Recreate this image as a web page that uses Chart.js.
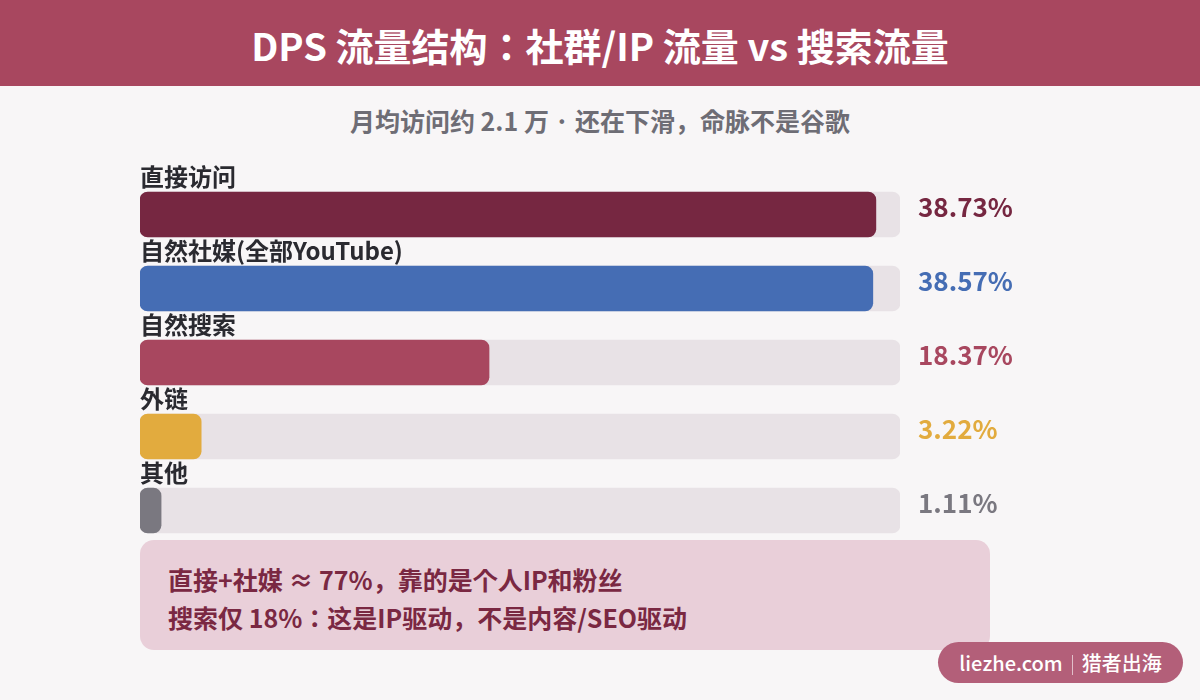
<!DOCTYPE html>
<html>
<head>
<meta charset="utf-8">
<script src="https://cdn.jsdelivr.net/npm/chart.js@4.4.1/dist/chart.umd.min.js"></script>
<style>
  html, body { margin: 0; padding: 0; }
  body { width: 1200px; height: 700px; background: #f8f6f7; position: relative; overflow: hidden;
         font-family: "Noto Sans CJK JP", "Noto Sans", sans-serif; font-weight: 700; }
  #head { position: absolute; left: 0; top: 0; width: 1200px; height: 86px; background: #a8475f;
          color: #fff; font-size: 38px; text-align: center; line-height: 90px; }
  #sub { position: absolute; left: 0; top: 102px; width: 1200px; text-align: center;
         color: #6e6d75; font-size: 25px; line-height: 36px; }
  #wrap { position: absolute; left: 0; top: 0; width: 1200px; height: 700px; }
  #note { position: absolute; left: 140px; top: 540px; width: 850px; height: 110px; background: #e9cfd9;
          border-radius: 14px; color: #7a2842; font-size: 25px; box-sizing: border-box; padding: 20px 0 0 28px;
          line-height: 38px; }
  #badge { position: absolute; left: 938px; top: 642px; width: 245px; height: 41px; background: #b35f79;
           border-radius: 21px; color: #fff; font-size: 20px; font-weight: 500; line-height: 41px; text-align: center; }
  #badge span { display: inline-block; width: 1px; height: 20px; background: rgba(255,255,255,0.6);
                vertical-align: -4px; margin: 0 9px; }
</style>
</head>
<body>
<div id="head">DPS 流量结构：社群/IP 流量 vs 搜索流量</div>
<div id="sub">月均访问约 2.1 万 · 还在下滑，命脉不是谷歌</div>
<div id="note">直接+社媒 ≈ 77%，靠的是个人IP和粉丝<br>搜索仅 18%：这是IP驱动，不是内容/SEO驱动</div>
<div id="badge">liezhe.com<span></span>猎者出海</div>
<div id="wrap"><canvas id="c" width="1200" height="700"></canvas></div>
<script>
// 流量来源
const categories = ["直接访问", "自然社媒(全部YouTube)", "自然搜索", "外链", "其他"];
const shares = [38.73, 38.57, 18.37, 3.22, 1.11];
const trackValues = [40, 40, 40, 40, 40];
const barColors = ["#762741", "#456db4", "#a8475f", "#e2ab3e", "#7a7880"];

const labelPlugin = {
  id: "labels",
  afterDatasetsDraw(chart) {
    const ctx = chart.ctx;
    const meta = chart.getDatasetMeta(1);
    const xEnd = chart.scales.x.getPixelForValue(chart.scales.x.max);
    ctx.save();
    meta.data.forEach((bar, i) => {
      ctx.textBaseline = "middle";
      ctx.textAlign = "left";
      ctx.fillStyle = "#2a2a30";
      ctx.font = "700 24px 'Noto Sans CJK JP'";
      ctx.fillText(categories[i], chart.chartArea.left, bar.y - 38);
      ctx.fillStyle = barColors[i];
      ctx.font = "700 26px 'Noto Sans CJK JP'";
      ctx.fillText(shares[i].toFixed(2) + "%", xEnd + 18, bar.y - 7);
    });
    ctx.restore();
  }
};

new Chart(document.getElementById("c"), {
  type: "bar",
  data: {
    labels: categories,
    datasets: [{
      data: trackValues,
      backgroundColor: "#e8e2e6",
      borderRadius: 8,
      borderSkipped: false,
      barThickness: 45,
      grouped: false,
      order: 2
    }, {
      data: shares,
      backgroundColor: barColors,
      borderRadius: 8,
      borderSkipped: false,
      barThickness: 45,
      grouped: false,
      order: 1
    }]
  },
  options: {
    indexAxis: "y",
    responsive: false,
    animation: false,
    layout: { padding: { left: 140, right: 300, top: 177.5, bottom: 152.5 } },
    scales: {
      x: { display: false, min: 0, max: 40 },
      y: { display: false }
    },
    plugins: { legend: { display: false }, tooltip: { enabled: false } }
  },
  plugins: [labelPlugin]
});
</script>
</body>
</html>
